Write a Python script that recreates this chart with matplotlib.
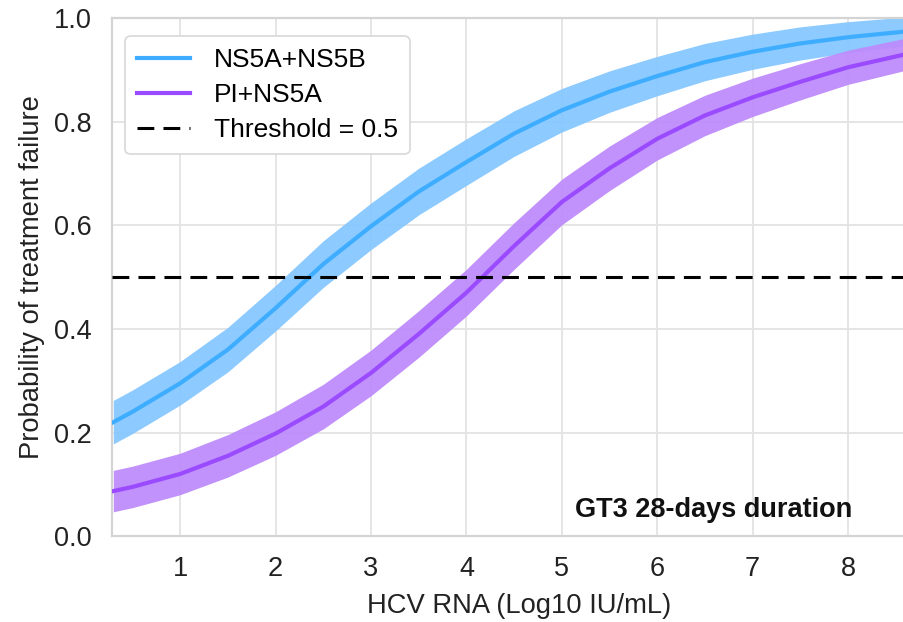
import matplotlib
matplotlib.use("Agg")
import matplotlib.pyplot as plt
import numpy as np

# ---- data ----
hcv_rna = [0.3, 0.5, 1.0, 1.5, 2.0, 2.5, 3.0, 3.5, 4.0, 4.5, 5.0, 5.5, 6.0, 6.5, 7.0, 7.5, 8.0, 8.6]
ns5a_ns5b = [0.22, 0.24, 0.295, 0.36, 0.44, 0.525, 0.598, 0.665, 0.722, 0.777, 0.822, 0.858, 0.888, 0.915, 0.935, 0.951, 0.963, 0.974]
ns5a_ns5b_halfwidth = [0.042, 0.042, 0.042, 0.043, 0.044, 0.045, 0.045, 0.045, 0.045, 0.044, 0.042, 0.040, 0.038, 0.036, 0.034, 0.032, 0.030, 0.028]
pi_ns5a = [0.087, 0.095, 0.12, 0.155, 0.198, 0.25, 0.315, 0.39, 0.47, 0.56, 0.645, 0.71, 0.767, 0.812, 0.847, 0.877, 0.905, 0.93]
pi_ns5a_halfwidth = [0.040, 0.040, 0.040, 0.041, 0.042, 0.043, 0.044, 0.045, 0.045, 0.045, 0.044, 0.043, 0.041, 0.039, 0.037, 0.035, 0.033, 0.031]
threshold = 0.5
series_labels = ["NS5A+NS5B", "PI+NS5A"]
threshold_label = "Threshold = 0.5"
annotation = "GT3 28-days duration"
x_label = "HCV RNA (Log10 IU/mL)"
y_label = "Probability of treatment failure"
x_ticks = [1, 2, 3, 4, 5, 6, 7, 8]
y_ticks = [0.0, 0.2, 0.4, 0.6, 0.8, 1.0]

plt.rcParams['font.family'] = ['Liberation Sans', 'DejaVu Sans']

fig = plt.figure(figsize=(9.04, 6.22), dpi=100)
ax = fig.add_axes([0.124, 0.138, 0.90, 0.833])

x = np.array(hcv_rna)
c1 = np.array(ns5a_ns5b); h1 = np.array(ns5a_ns5b_halfwidth)
c2 = np.array(pi_ns5a); h2 = np.array(pi_ns5a_halfwidth)

blue_line = "#3eadff"
blue_band = "#86c8ff"
purple_line = "#9a4bff"
purple_band = "#be8cfb"

ax.fill_between(x, c1 - h1, c1 + h1, color=blue_band, alpha=0.95, lw=0, zorder=2)
ax.plot(x, c1, color=blue_line, lw=3, label=series_labels[0], zorder=3)
ax.fill_between(x, c2 - h2, c2 + h2, color=purple_band, alpha=0.95, lw=0, zorder=2)
ax.plot(x, c2, color=purple_line, lw=3, label=series_labels[1], zorder=3)
ax.axhline(threshold, color="black", ls=(0, (5.5, 3)), lw=2.2, label=threshold_label, zorder=4)

ax.set_xlim(0.2875, 8.813)
ax.set_ylim(0, 1.0)
ax.set_xticks(x_ticks)
ax.set_yticks(y_ticks)
ax.set_yticklabels([f"{v:.1f}" for v in y_ticks])
ax.tick_params(axis='y', labelsize=19.5, length=0, pad=15, colors="#222222")
ax.tick_params(axis='x', labelsize=19.5, length=0, pad=14, colors="#222222")
ax.grid(True, color="#e3e3e3", lw=1.3, zorder=0)
ax.set_axisbelow(True)
for s in ["left", "bottom", "top"]:
    ax.spines[s].set_color("#d4d4d4")
    ax.spines[s].set_linewidth(1.6)
ax.spines["right"].set_visible(False)

ax.set_xlabel(x_label, fontsize=19.7, labelpad=8, color="#222222")
ax.set_ylabel(y_label, fontsize=19.7, labelpad=6, color="#222222")

ax.text(8.04, 0.05, annotation, ha="right", va="center",
        fontsize=19.5, fontweight="bold", color="#111111")

leg = ax.legend(loc="upper left", bbox_to_anchor=(0.0, 0.99), fontsize=19,
                frameon=True, framealpha=1.0, edgecolor="#d8d8d8", fancybox=True,
                handlelength=2.0, handletextpad=0.9, borderpad=0.45, labelspacing=0.42)
leg.get_frame().set_linewidth(1.2)

fig.savefig("out.png", dpi=100)
